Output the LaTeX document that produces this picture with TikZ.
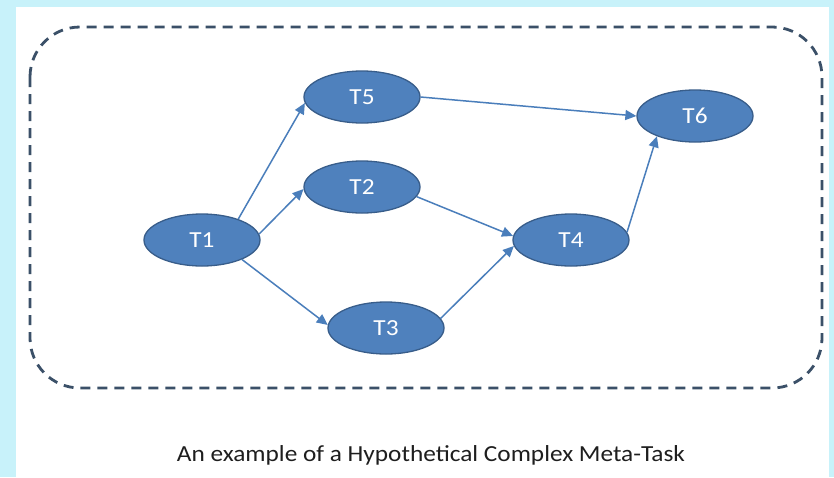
\documentclass[tikz,border=0pt]{standalone}
\usepackage{fontspec}
\setmainfont{Carlito}
\usetikzlibrary{shapes.geometric,arrows.meta}
\definecolor{panelcyan}{RGB}{200,242,250}
\definecolor{taskfill}{RGB}{79,129,189}
\definecolor{taskedge}{RGB}{56,93,138}
\definecolor{flowblue}{RGB}{74,126,187}
\definecolor{groupline}{RGB}{59,80,104}
\definecolor{captext}{RGB}{30,30,30}
% slightly widened lettering
\newcommand\widetext[1]{\scalebox{1.1}[1]{#1}}
\tikzset{
  task/.style={ellipse, fill=taskfill, draw=taskedge, line width=1.3pt,
    minimum width=116pt, minimum height=52pt, inner sep=0pt,
    text=white, font=\fontsize{23}{23}\selectfont},
  flow/.style={draw=flowblue, line width=1.5pt, -{Triangle[length=11pt,width=10pt]}},
}
\begin{document}
\begin{tikzpicture}[x=1pt,y=-1pt]
  % page background and white panel
  \fill[panelcyan] (0,0) rectangle (834,477);
  \fill[white] (16,7) rectangle (829,477);
  \useasboundingbox (0,0) rectangle (834,477);
  % dashed group boundary
  \draw[groupline, line width=2.8pt, dash pattern=on 10pt off 7pt, rounded corners=50pt]
    (30,27) rectangle (822,388);
  % tasks
  \node[task] (t1) at (202,240) {\widetext{T1}};
  \node[task] (t5) at (362,97) {\widetext{T5}};
  \node[task] (t2) at (362,187) {\widetext{T2}};
  \node[task] (t3) at (386,328) {\widetext{T3}};
  \node[task] (t4) at (571,240) {\widetext{T4}};
  \node[task] (t6) at (695,116) {\widetext{T6}};
  % dependencies
  \draw[flow] (t1.30) -- (t5.186);
  \draw[flow] (t1.6) -- (t2.182);
  \draw[flow] (t1.-26) -- (t3.177);
  \draw[flow] (t5.east) -- (t6.west);
  \draw[flow] (t2.-10) -- (t4.176);
  \draw[flow] (t3.10) -- (t4.186);
  \draw[flow] (t4.8) -- (t6.208);
  % caption
  \node[font=\fontsize{23}{23}\selectfont, text=captext, anchor=base] (cap) at (431,461)
    {\widetext{An example of a Hypothetical Complex Meta-Task}};
\end{tikzpicture}
\end{document}
